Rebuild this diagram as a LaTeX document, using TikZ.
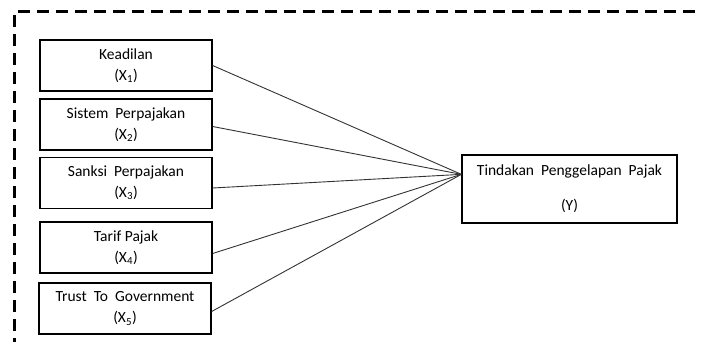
\documentclass[tikz,border=0pt]{standalone}
\usepackage{fontspec}
\setmainfont{Carlito}
\usetikzlibrary{positioning}

\tikzset{
    varbox/.style={draw, line width=1.3pt, minimum width=172pt, minimum height=51pt,
        inner sep=0pt, align=center, font=\fontsize{15.5}{21}\selectfont},
    link/.style={draw=black!80, line width=0.9pt},
    frame/.style={line width=3pt, dash pattern=on 12pt off 7pt}
}

\begin{document}
\begin{tikzpicture}[x=1pt, y=-1pt]
    \useasboundingbox (0,0) rectangle (702,342);

    % outer frame
    \draw[frame] (14,350) |- (710,12);

    % independent variables
    \node[varbox] (keadilan) at (126,65.5) {Keadilan\\(X\textsubscript{1})};
    \node[varbox] (sistem) at (126,124.5) {Sistem\ \ Perpajakan\\(X\textsubscript{2})};
    \node[varbox] (sanksi) at (126,183) {Sanksi\ \ Perpajakan\\(X\textsubscript{3})};
    \node[varbox] (tarif) at (126,247.5) {Tarif Pajak\\(X\textsubscript{4})};
    \node[varbox] (trust) at (125,308.5) {Trust\ \ To\ \ Government\\(X\textsubscript{5})};

    % dependent variable
    \node[varbox, minimum width=215pt, minimum height=68pt, font=\fontsize{15.5}{35}\selectfont]
        (tindakan) at (569.5,189) {Tindakan\ \ Penggelapan\ \ Pajak\\(Y)};
    \coordinate (hub) at ([yshift=-20pt]tindakan.north west);

    \draw[link] (keadilan.east) -- (hub);
    \draw[link] ([yshift=-2pt]sistem.east) -- (hub);
    \draw[link] ([yshift=-5pt]sanksi.east) -- (hub);
    \draw[link] ([yshift=-6pt]tarif.east) -- (hub);
    \draw[link] ([yshift=-3pt]trust.east) -- (hub);
\end{tikzpicture}
\end{document}
